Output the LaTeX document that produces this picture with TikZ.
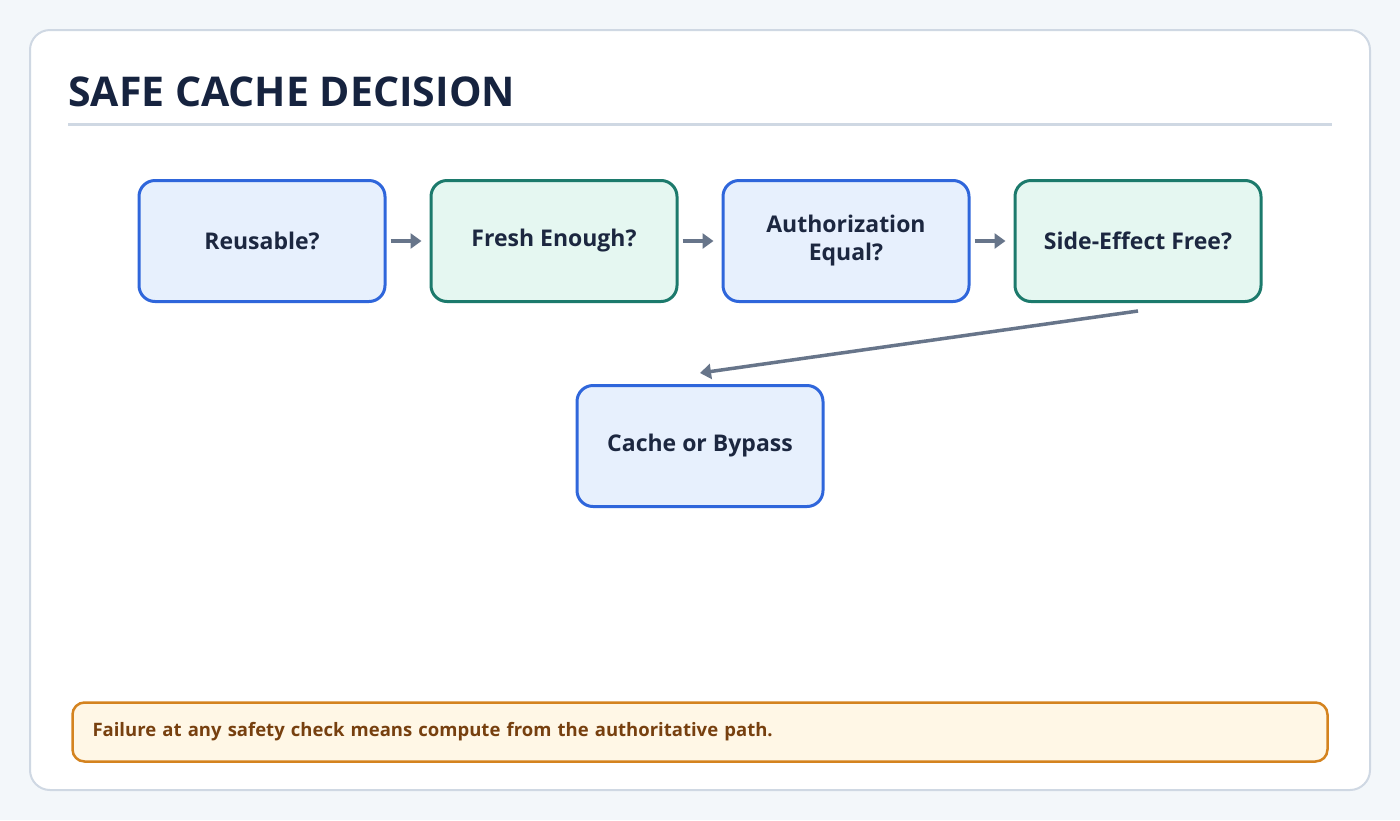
\documentclass[tikz,border=0pt]{standalone}
\usepackage{fontspec}
\setmainfont{Open Sans}
\usetikzlibrary{positioning,arrows.meta}
\definecolor{pagebg}{HTML}{F3F7FA}
\definecolor{cardline}{HTML}{CFD8E3}
\definecolor{titleink}{HTML}{16233F}
\definecolor{boxink}{HTML}{1C2740}
\definecolor{blueline}{HTML}{2F66DB}
\definecolor{bluefill}{HTML}{E7F0FD}
\definecolor{greenline}{HTML}{1C7A6C}
\definecolor{greenfill}{HTML}{E5F7F1}
\definecolor{arrowgray}{HTML}{67758A}
\definecolor{noteline}{HTML}{D4831F}
\definecolor{notefill}{HTML}{FFF7E6}
\definecolor{noteink}{HTML}{77400F}
\tikzset{
  stage/.style={draw=blueline,fill=bluefill,line width=3pt,rounded corners=16pt,
    minimum width=246pt,minimum height=121pt,align=center,
    font=\fontsize{23}{28}\selectfont\bfseries,text=boxink},
  check/.style={stage,draw=greenline,fill=greenfill},
  link/.style={draw=arrowgray,line width=4pt,-{Triangle[length=11pt,width=15pt]}}
}
\begin{document}
\begin{tikzpicture}[x=1pt,y=-1pt]
\fill[pagebg] (0,0) rectangle (1400,820);
\useasboundingbox (0,0) rectangle (1400,820);
\draw[cardline,fill=white,line width=2pt,rounded corners=20pt] (30,30) rectangle (1370,790);
\node[anchor=base west,inner sep=0pt,text=titleink,font=\fontsize{41}{46}\selectfont\bfseries]
  (title) at (68,106) {SAFE CACHE DECISION};
\draw[cardline,line width=3pt] (68,124) -- (1332,124);
% checks in a row
\node[stage] (reuse) at (262,241) {Reusable?};
\node[check] (fresh) at (554,241) {Fresh Enough?};
\node[stage] (auth)  at (846,241) {Authorization\\Equal?};
\node[check] (side)  at (1138,241) {Side-Effect Free?};
\node[stage] (cache) at (700,446) {Cache or Bypass};
\draw[link] ([xshift=4pt]reuse.east) -- ([xshift=-8pt]fresh.west);
\draw[link] ([xshift=4pt]fresh.east) -- ([xshift=-8pt]auth.west);
\draw[link] ([xshift=4pt]auth.east) -- ([xshift=-8pt]side.west);
\draw[link,line width=3.5pt] ([yshift=-8pt]side.south) -- ([yshift=11pt]cache.north);
% note
\node[draw=noteline,fill=notefill,line width=2.5pt,rounded corners=12pt,
  minimum width=1255pt,minimum height=59pt,text width=1215pt,align=left,
  font=\fontsize{18.5}{22}\selectfont\bfseries,text=noteink]
  (note) at (700,732) {Failure at any safety check means compute from the authoritative path.};
\end{tikzpicture}
\end{document}
